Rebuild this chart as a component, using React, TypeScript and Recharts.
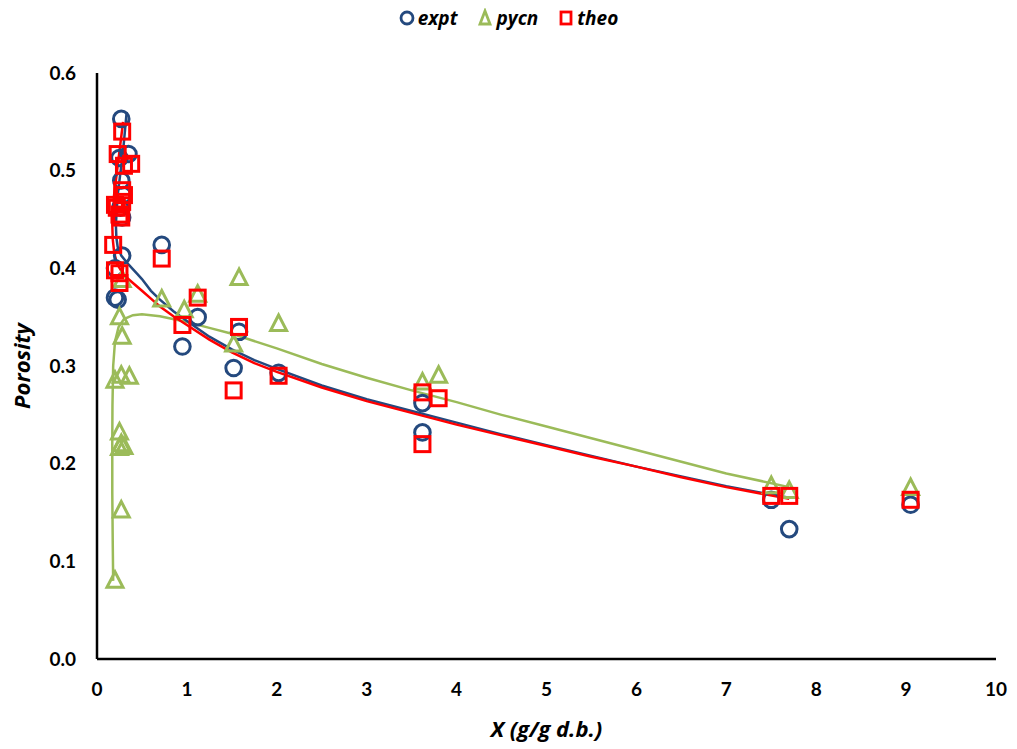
import React from "react";
import { ComposedChart, Scatter, Line, XAxis, YAxis } from "recharts";

// measured points: x (g/g d.b.), porosity
const exptX = [0.27, 0.35, 0.25, 0.27, 0.29, 0.26, 0.28, 0.28, 0.2, 0.2, 0.23, 0.72, 0.95, 1.12, 1.52, 1.58, 2.02, 3.62, 3.62, 7.5, 7.7, 9.05];
const exptY = [0.553, 0.517, 0.513, 0.49, 0.475, 0.462, 0.452, 0.413, 0.40, 0.37, 0.368, 0.424, 0.32, 0.35, 0.298, 0.335, 0.293, 0.262, 0.232, 0.163, 0.133, 0.158];

const pycnX = [0.2, 0.27, 0.25, 0.27, 0.25, 0.3, 0.2, 0.27, 0.36, 0.28, 0.25, 0.28, 0.72, 0.97, 1.12, 1.52, 1.58, 2.02, 3.62, 3.8, 7.5, 7.7, 9.05];
const pycnY = [0.08, 0.152, 0.216, 0.22, 0.232, 0.217, 0.285, 0.29, 0.289, 0.33, 0.35, 0.388, 0.368, 0.357, 0.373, 0.322, 0.39, 0.343, 0.283, 0.29, 0.177, 0.172, 0.175];

const theoX = [0.28, 0.23, 0.38, 0.3, 0.28, 0.3, 0.28, 0.2, 0.22, 0.25, 0.27, 0.18, 0.2, 0.25, 0.25, 0.72, 0.95, 1.12, 1.52, 1.58, 2.02, 3.62, 3.62, 3.8, 7.5, 7.7, 9.05];
const theoY = [0.54, 0.517, 0.507, 0.505, 0.48, 0.475, 0.468, 0.465, 0.462, 0.455, 0.452, 0.424, 0.398, 0.395, 0.385, 0.41, 0.342, 0.37, 0.275, 0.34, 0.29, 0.273, 0.22, 0.267, 0.167, 0.167, 0.163];

// fitted curves
const exptFitX = [0.33, 0.31, 0.29, 0.27, 0.25, 0.23, 0.22, 0.21, 0.215, 0.23, 0.27, 0.35, 0.45, 0.5, 0.6, 0.7, 0.85, 1.0, 1.25, 1.5, 1.75, 2.0, 2.5, 3.0, 3.5, 4.0, 4.5, 5, 5.5, 6, 6.5, 7, 7.7];
const exptFitY = [0.56, 0.54, 0.52, 0.505, 0.49, 0.475, 0.46, 0.445, 0.432, 0.422, 0.413, 0.404, 0.394, 0.389, 0.377, 0.368, 0.356, 0.346, 0.33, 0.317, 0.306, 0.297, 0.28, 0.266, 0.254, 0.242, 0.23, 0.219, 0.208, 0.197, 0.187, 0.177, 0.165];

const theoFitX = [0.29, 0.27, 0.25, 0.23, 0.21, 0.19, 0.18, 0.17, 0.175, 0.19, 0.22, 0.3, 0.4, 0.5, 0.6, 0.7, 0.85, 1.0, 1.25, 1.5, 1.75, 2.0, 2.5, 3.0, 3.5, 4.0, 4.5, 5, 5.5, 6, 6.5, 7, 7.7];
const theoFitY = [0.55, 0.535, 0.52, 0.505, 0.49, 0.475, 0.46, 0.445, 0.43, 0.417, 0.405, 0.393, 0.385, 0.377, 0.369, 0.361, 0.351, 0.342, 0.327, 0.314, 0.303, 0.294, 0.278, 0.264, 0.252, 0.24, 0.229, 0.218, 0.207, 0.197, 0.186, 0.176, 0.164];

const pycnFitX = [0.18, 0.175, 0.17, 0.17, 0.172, 0.18, 0.2, 0.24, 0.3, 0.4, 0.5, 0.7, 1.0, 1.25, 1.5, 2.0, 2.5, 3.0, 3.5, 4.0, 4.5, 5, 5.5, 6, 6.5, 7, 7.7];
const pycnFitY = [0.08, 0.12, 0.17, 0.22, 0.26, 0.3, 0.325, 0.34, 0.348, 0.352, 0.353, 0.351, 0.345, 0.339, 0.333, 0.318, 0.302, 0.288, 0.275, 0.263, 0.25, 0.238, 0.226, 0.214, 0.202, 0.19, 0.176];

const xTicks = [0, 1, 2, 3, 4, 5, 6, 7, 8, 9, 10];
const yTicks = [0, 0.1, 0.2, 0.3, 0.4, 0.5, 0.6];

const BLUE = "#24497E";
const GREEN = "#9BBB59";
const RED = "#FF0000";
const FONT = "Lato, 'Open Sans', sans-serif";
const TFONT = "'Open Sans', Lato, sans-serif";

const zip = (xs: number[], ys: number[]) => xs.map((x, i) => ({ x, y: ys[i] }));

const exptData = zip(exptX, exptY);
const pycnData = zip(pycnX, pycnY);
const theoData = zip(theoX, theoY);
const exptFit = zip(exptFitX, exptFitY);
const theoFit = zip(theoFitX, theoFitY);
const pycnFit = zip(pycnFitX, pycnFitY);

const Circle = (p: any) => (
  <circle cx={p.cx} cy={p.cy} r={7.8} fill="none" stroke={BLUE} strokeWidth={3} />
);
const Tri = (p: any) => (
  <polygon
    points={`${p.cx},${p.cy - 9} ${p.cx - 8},${p.cy + 6.5} ${p.cx + 8},${p.cy + 6.5}`}
    fill="none"
    stroke={GREEN}
    strokeWidth={3}
  />
);
const Sq = (p: any) => (
  <rect x={p.cx - 7.5} y={p.cy - 7.5} width={15} height={15} fill="none" stroke={RED} strokeWidth={3} />
);

const legendItems = [
  { n: "expt", s: <circle cx={8} cy={10} r={6} fill="none" stroke={BLUE} strokeWidth={2.8} /> },
  { n: "pycn", s: <polygon points="8,3 3,16 13,16" fill="none" stroke={GREEN} strokeWidth={2.8} /> },
  { n: "theo", s: <rect x={3} y={4} width={10} height={12} fill="none" stroke={RED} strokeWidth={2.8} /> },
];

export default function App() {
  return (
    <div style={{ position: "absolute", left: 0, top: 0, width: 1017, height: 749, background: "#fff" }}>
      <div
        style={{
          position: "absolute",
          top: 5,
          left: 0,
          width: 1017,
          display: "flex",
          justifyContent: "center",
          alignItems: "center",
          fontFamily: TFONT,
          fontWeight: 700,
          fontStyle: "italic",
          fontSize: 19,
          gap: 20,
          boxSizing: "border-box",
        }}
      >
        {legendItems.map((it) => (
          <div key={it.n} style={{ display: "flex", alignItems: "center", gap: 3 }}>
            <svg width={16} height={20}>{it.s}</svg>
            <span>{it.n}</span>
          </div>
        ))}
      </div>
      <ComposedChart width={1017} height={749} margin={{ top: 73, right: 21, bottom: 50, left: 37 }}>
        <XAxis
          type="number"
          dataKey="x"
          domain={[0, 10]}
          ticks={xTicks}
          tickLine={false}
          axisLine={{ stroke: "#000", strokeWidth: 2.5 }}
          tick={{ fill: "#000", fontSize: 19, fontWeight: 700, fontFamily: FONT }}
          tickMargin={18}
          height={40}
          allowDataOverflow
          label={{
            value: "X (g/g d.b.)",
            position: "bottom",
            offset: 22,
            style: { fill: "#000", fontSize: 22, fontWeight: 700, fontStyle: "italic", fontFamily: TFONT },
          }}
        />
        <YAxis
          type="number"
          dataKey="y"
          domain={[0, 0.6]}
          ticks={yTicks}
          tickLine={false}
          axisLine={{ stroke: "#000", strokeWidth: 2.5 }}
          tick={{ fill: "#000", fontSize: 19, fontWeight: 700, fontFamily: FONT }}
          tickFormatter={(v: number) => v.toFixed(1)}
          tickMargin={15}
          width={60}
          label={{
            value: "Porosity",
            angle: -90,
            position: "left",
            offset: 15,
            style: { fill: "#000", fontSize: 22, fontWeight: 700, fontStyle: "italic", fontFamily: TFONT, textAnchor: "middle" },
          }}
        />
        <Line data={pycnFit} dataKey="y" type="linear" stroke={GREEN} strokeWidth={2.5} dot={false} isAnimationActive={false} legendType="none" />
        <Line data={exptFit} dataKey="y" type="linear" stroke={BLUE} strokeWidth={2.5} dot={false} isAnimationActive={false} legendType="none" />
        <Line data={theoFit} dataKey="y" type="linear" stroke={RED} strokeWidth={2.5} dot={false} isAnimationActive={false} legendType="none" />
        <Scatter name="expt" data={exptData} shape={Circle} isAnimationActive={false} />
        <Scatter name="pycn" data={pycnData} shape={Tri} isAnimationActive={false} />
        <Scatter name="theo" data={theoData} shape={Sq} isAnimationActive={false} />
      </ComposedChart>
    </div>
  );
}
